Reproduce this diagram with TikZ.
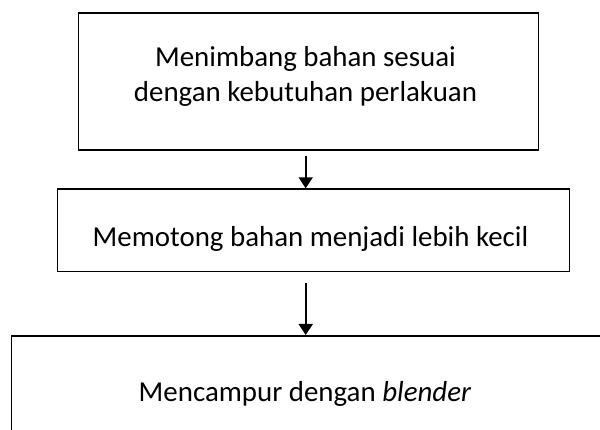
\documentclass[tikz,border=0pt]{standalone}
\usepackage{fontspec}
\setmainfont{Carlito}
\usetikzlibrary{arrows.meta}
\begin{document}
\begin{tikzpicture}[x=1pt,y=-1pt,
  boxstyle/.style={draw=black,line width=1.6pt,rectangle,inner sep=0pt,anchor=north west},
  txt/.style={font=\fontsize{28.9}{35}\selectfont,anchor=base,inner sep=0pt},
  arr/.style={line width=1.8pt,-{Triangle[width=14pt,length=11pt]}}]
\useasboundingbox (0,0) rectangle (600,430);
\clip (0,0) rectangle (600,430);
\node[boxstyle,minimum width=460pt,minimum height=137pt] (box1) at (77.5,12) {};
\node[boxstyle,minimum width=512pt,minimum height=82.5pt] (box2) at (56.7,188.3) {};
\node[boxstyle,minimum width=620pt,minimum height=120pt] (box3) at (10.7,335) {};
\node[txt] (t1a) at (305.5,66.7) {Menimbang bahan sesuai};
\node[txt] (t1b) at (305.5,101.7) {dengan kebutuhan perlakuan};
\node[txt] (t2) at (310.5,246.7) {Memotong bahan menjadi lebih kecil};
\node[txt] (t3) at (305,401.7) {Mencampur dengan \textit{blender}};
\coordinate (a1) at (305.7,156);
\coordinate (a2) at (305.7,282.7);
\draw[arr] (a1) -- (a1 |- box2.north);
\draw[arr] (a2) -- (a2 |- box3.north);
\end{tikzpicture}
\end{document}
